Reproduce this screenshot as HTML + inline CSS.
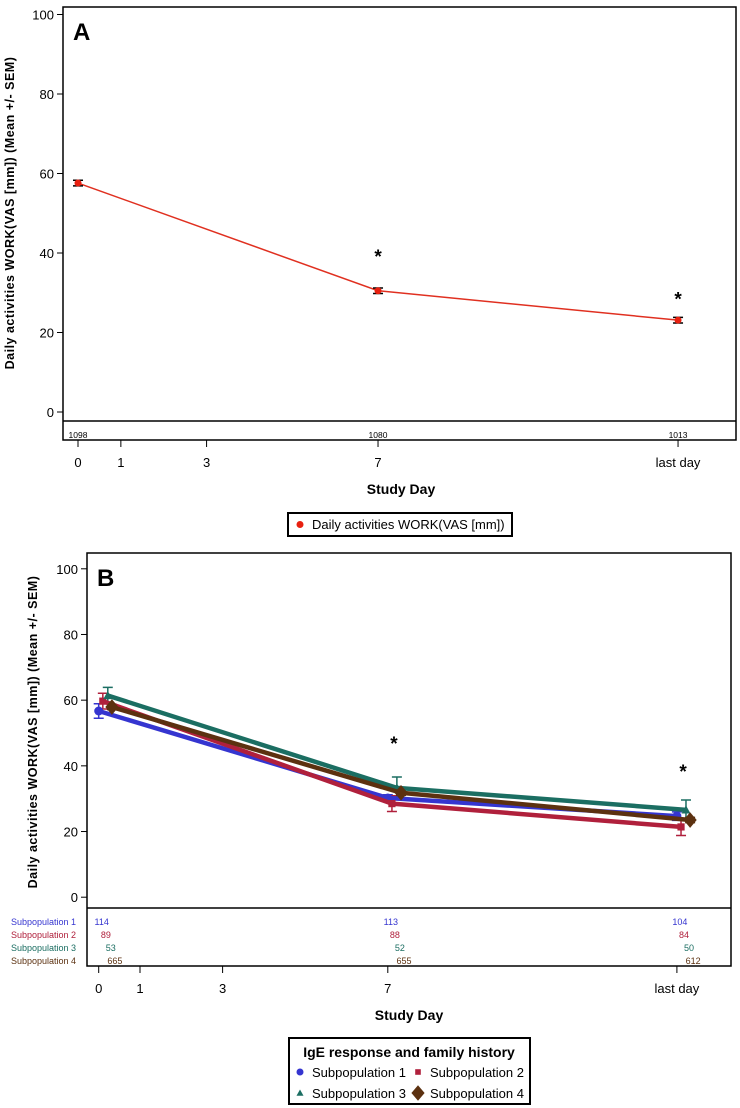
<!DOCTYPE html>
<html><head><meta charset="utf-8"><style>
body{margin:0;background:#fff;}
svg{display:block;font-family:"Liberation Sans",sans-serif;}
</style></head><body>
<svg id="chart" width="740" height="1108" viewBox="0 0 740 1108">
<g id="pA"></g>
<g id="pB"></g>
</svg>
<script>
const dayTicks=[0,1,3,7,14];
const dayLabels=["0","1","3","7","last day"];
const yTicks=[0,20,40,60,80,100];
const aDays=[0,7,14];
const aMean=[57.6,30.5,23.1];
const aSem=[0.7,0.7,0.7];
const aCounts=["1098","1080","1013"];
const aStars=[null,39.7,29];
const bNames=["Subpopulation 1","Subpopulation 2","Subpopulation 3","Subpopulation 4"];
const bDays=[0,7,14];
const b1=[56.7,30.2,24.7];
const b2=[59.7,28.5,21.4];
const b3=[61.4,33.3,26.6];
const b4=[57.9,31.8,23.5];
const bSem1=[2.2,1.0,1.3];
const bSem2=[2.4,2.4,2.6];
const bSem3=[2.5,3.3,3.0];
const bSem4=[0.8,0.8,0.8];
const bCounts1=["114","113","104"];
const bCounts2=["89","88","84"];
const bCounts3=["53","52","50"];
const bCounts4=["665","655","612"];
const bStars=[null,47.6,39];

const NS="http://www.w3.org/2000/svg";
function mk(p,t,a,txt){const e=document.createElementNS(NS,t);for(const k in a)e.setAttribute(k,a[k]);if(txt!==undefined)e.textContent=txt;p.appendChild(e);return e;}

function axes(g,o){
  const X=d=>o.x0+d*o.pd, Y=v=>o.y0-v*o.pv;
  let f=mk(g,'rect',{x:o.L,y:o.T,width:o.R-o.L,height:o.B-o.T,fill:'none',stroke:'#000','stroke-width':1.5});
  
  let dv=mk(g,'line',{x1:o.L,x2:o.R,y1:o.D,y2:o.D,stroke:'#000','stroke-width':1.5});
  
  yTicks.forEach(v=>{
    let t=mk(g,'line',{x1:o.L-6,x2:o.L,y1:Y(v),y2:Y(v),stroke:'#000'});
    
    let l=mk(g,'text',{x:o.L-9,y:Y(v)+5,'text-anchor':'end','font-size':13},String(v));
    
  });
  dayTicks.forEach((d,i)=>{
    let t=mk(g,'line',{x1:X(d),x2:X(d),y1:o.B,y2:o.B+7,stroke:'#000'});
    
    let l=mk(g,'text',{x:X(d),y:o.B+27,'text-anchor':'middle','font-size':13},dayLabels[i]);
    
  });
  let xt=mk(g,'text',{x:o.xtx,y:o.xty,'text-anchor':'middle','font-size':14,'font-weight':'bold'},'Study Day');
  
  let yt=mk(g,'text',{x:0,y:0,'text-anchor':'middle','font-size':12.5,'letter-spacing':0.5,'font-weight':'bold',transform:`translate(${o.ytx},${o.yty}) rotate(-90)`},'Daily activities WORK(VAS [mm]) (Mean +/- SEM)');
  
  let pl=mk(g,'text',{x:o.L+10,y:o.T+33,'font-size':24,'font-weight':'bold'},o.label);
  
  return {X,Y};
}
function errbar(g,x,yl,yh,c,w,name){
  let e=mk(g,'path',{d:`M${x},${yl}V${yh}M${x-w},${yl}H${x+w}M${x-w},${yh}H${x+w}`,stroke:c,'stroke-width':1.5,fill:'none'});
  
}
function star(g,x,y){
  let s=mk(g,'text',{x:x,y:y+9,'text-anchor':'middle','font-size':19,'font-weight':'bold'},'*');
  
}

// Panel A
(function(){
  const g=document.getElementById('pA');
  const o={L:63,T:7,R:736,B:440,D:421,x0:78,pd:42.86,y0:412,pv:3.975,xtx:401,xty:494,ytx:14,yty:213,label:'A'};
  const {X,Y}=axes(g,o);
  const pts=aDays.map((d,i)=>X(d)+','+Y(aMean[i])).join(' ');
  let ln=mk(g,'polyline',{points:pts,fill:'none',stroke:'#e03020','stroke-width':1.5});
  
  aDays.forEach((d,i)=>{
    errbar(g,X(d),Y(aMean[i]-aSem[i]),Y(aMean[i]+aSem[i]),'#000',5,'error-bar');
    let c=mk(g,'circle',{cx:X(d),cy:Y(aMean[i]),r:3.5,fill:'#e82010'});
    
    let t=mk(g,'text',{x:X(d),y:438,'text-anchor':'middle','font-size':8.5},aCounts[i]);
    
    if(aStars[i]!==null)star(g,X(d),Y(aStars[i]));
  });
  const lg=mk(g,'g',{});
  
  mk(lg,'rect',{x:288,y:513,width:224,height:23,fill:'#fff',stroke:'#000','stroke-width':2});
  let m=mk(lg,'circle',{cx:300,cy:524.5,r:3.5,fill:'#e82010'});
  
  let lt=mk(lg,'text',{x:312,y:529,'font-size':13},'Daily activities WORK(VAS [mm])');
  
})();

// Panel B
(function(){
  const g=document.getElementById('pB');
  const o={L:87,T:553,R:731,B:966,D:908,x0:98.7,pd:41.3,y0:897.2,pv:3.284,xtx:409,xty:1020,ytx:37,yty:732,label:'B'};
  const {X,Y}=axes(g,o);
  const series=[b1,b2,b3,b4], sems=[bSem1,bSem2,bSem3,bSem4], counts=[bCounts1,bCounts2,bCounts3,bCounts4];
  const colors=['#3535d0','#b0203c','#1b6e62','#5c3110'];
  const offs=[0,0.1,0.22,0.32];
  const shapes=['circle','square','triangle','diamond'];
  function marker(p,s,x,y,c,sz){
    let e;
    if(s==='circle')e=mk(p,'circle',{cx:x,cy:y,r:sz,fill:c});
    else if(s==='square')e=mk(p,'rect',{x:x-sz*0.8,y:y-sz*0.8,width:sz*1.6,height:sz*1.6,fill:c});
    else if(s==='triangle')e=mk(p,'path',{d:`M${x},${y-sz}L${x+sz},${y+sz*0.8}L${x-sz},${y+sz*0.8}Z`,fill:c});
    else e=mk(p,'path',{d:`M${x},${y-sz*1.3}L${x+sz*1.1},${y}L${x},${y+sz*1.3}L${x-sz*1.1},${y}Z`,fill:c});
    return e;
  }
  const drawOrder=[0,1,2,3];
  drawOrder.forEach(k=>{
    const v=series[k];
    bDays.forEach((d,i)=>errbar(g,X(d+offs[k]),Y(v[i]-sems[k][i]),Y(v[i]+sems[k][i]),colors[k],5,'error-bar'));
  });
  drawOrder.forEach(k=>{
    const v=series[k];
    let ln=mk(g,'polyline',{points:bDays.map((d,i)=>X(d+offs[k])+','+Y(v[i])).join(' '),fill:'none',stroke:colors[k],'stroke-width':4.5,'stroke-linejoin':'round'});
    
    bDays.forEach((d,i)=>{
      let m=marker(g,shapes[k],X(d+offs[k]),Y(v[i]),colors[k],k===3?6:4.5);
      
    });
  });
  bDays.forEach((d,i)=>{ if(bStars[i]!==null)star(g,X(d+0.15),Y(bStars[i])); });
  const rowY=[925,938,951,964];
  bNames.forEach((n,k)=>{
    let t=mk(g,'text',{x:76,y:rowY[k],'text-anchor':'end','font-size':9,fill:colors[k]},n);
    
    bDays.forEach((d,i)=>{
      let c=mk(g,'text',{x:X(d+offs[k])+3,y:rowY[k],'text-anchor':'middle','font-size':9,fill:colors[k]},counts[k][i]);
      
    });
  });
  const lg=mk(g,'g',{});
  
  mk(lg,'rect',{x:289,y:1038,width:241,height:66,fill:'#fff',stroke:'#000','stroke-width':2});
  let lt=mk(lg,'text',{x:409,y:1057,'text-anchor':'middle','font-size':14,'font-weight':'bold'},'IgE response and family history');
  
  const lx=[300,418], ly=[1072,1093];
  bNames.forEach((n,k)=>{
    const cx=lx[k%2], cy=ly[Math.floor(k/2)];
    let m=marker(lg,shapes[k],cx,cy,colors[k],k===3?6:3.5);
    
    let t=mk(lg,'text',{x:cx+12,y:cy+5,'font-size':13},n);
    
  });
})();
</script>
</body></html>
